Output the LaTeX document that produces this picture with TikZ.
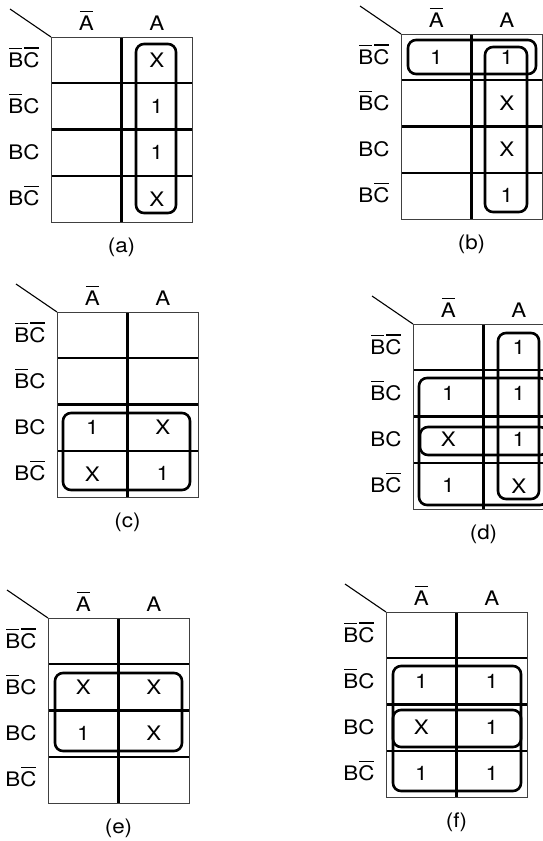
\documentclass[tikz,border=0pt]{standalone}
\usepackage{fontspec}
\setmainfont[FakeStretch=1.12]{TeX Gyre Heros}

% letter with a bar over it
\newcommand{\ovl}[1]{%
  \setbox0=\hbox{#1}%
  \rlap{\kern1pt\raise\dimexpr\ht0+3.5pt\relax
    \hbox{\vrule width \dimexpr\wd0-2pt\relax height 1.2pt depth 0pt}}%
  \box0}

% one empty map: frame, labels and caption, origin at the grid's top left
\newcommand{\kframe}[1]{%
  \draw[gridin] (70.5,0) -- (70.5,185);
  \foreach \r in {1,2,3}
    \draw[gridin] (0,\r*46.25) -- (141,\r*46.25);
  \draw[gridout] (0,0) rectangle (141,185);
  \draw[diag] (-41,-28) -- (0,0);
  \node[collab] (#1-nota) at (35.25,-7) {\ovl{A}};
  \node[collab] (#1-isa) at (105.75,-7) {A};
  \foreach \lab [count=\r] in {{\ovl{B}\ovl{C}},{\ovl{B}C},{BC},{B\ovl{C}}}
    \node[rowlab] (#1-row\r) at (-27,{(\r-0.5)*46.25+7}) {\lab};
  \node[caplab] (#1-cap) at (70.5,210) {(#1)};
}
% a value in column #2, row #3
\newcommand{\kval}[4]{%
  \node[cell] (#1) at ({(#2-0.5)*70.5},{(#3-0.5)*46.25}) {#4};
}

\begin{document}
\begin{tikzpicture}[x=1pt, y=-1pt,
    txt/.style={font=\fontsize{20}{24}\selectfont, inner sep=0pt},
    cell/.style={txt},
    collab/.style={txt, anchor=base},
    rowlab/.style={txt, anchor=base},
    caplab/.style={txt},
    gridin/.style={line width=2.1pt},
    gridout/.style={line width=1pt, black!75},
    diag/.style={line width=1.1pt},
    grp/.style={line width=2.6pt, rounded corners=8pt}]
  \useasboundingbox (0,0) rectangle (543,841);

  % (a)
  \begin{scope}[shift={(51,37)}]
    \kframe{a}
    \kval{a-12}{2}{1}{X}
    \kval{a-22}{2}{2}{1}
    \kval{a-32}{2}{3}{1}
    \kval{a-42}{2}{4}{X}
    \draw[grp] (85,7) rectangle (125,176);
  \end{scope}

  % (b)
  \begin{scope}[shift={(401,34)}]
    \kframe{b}
    \kval{b-11}{1}{1}{1}
    \kval{b-12}{2}{1}{1}
    \kval{b-22}{2}{2}{X}
    \kval{b-32}{2}{3}{X}
    \kval{b-42}{2}{4}{1}
    \draw[grp] (7,6) rectangle (135,40);
    \draw[grp] (84,13) rectangle (126,178);
  \end{scope}

  % (c)
  \begin{scope}[shift={(57,312)}]
    \kframe{c}
    \kval{c-31}{1}{3}{1}
    \kval{c-32}{2}{3}{X}
    \kval{c-41}{1}{4}{X}
    \kval{c-42}{2}{4}{1}
    \draw[grp] (6,101) rectangle (133,178);
  \end{scope}

  % (d)
  \begin{scope}[shift={(413,324)}]
    \kframe{d}
    \kval{d-12}{2}{1}{1}
    \kval{d-21}{1}{2}{1}
    \kval{d-22}{2}{2}{1}
    \kval{d-31}{1}{3}{X}
    \kval{d-32}{2}{3}{1}
    \kval{d-41}{1}{4}{1}
    \kval{d-42}{2}{4}{X}
    \draw[grp] (85,9) rectangle (126,175);
    \draw[grp] (6,54) rectangle (135,181);
    \draw[grp] (7,103) rectangle (135,131);
  \end{scope}

  % (e)
  \begin{scope}[shift={(48,618)}]
    \kframe{e}
    \kval{e-21}{1}{2}{X}
    \kval{e-22}{2}{2}{X}
    \kval{e-31}{1}{3}{1}
    \kval{e-32}{2}{3}{X}
    \draw[grp] (7,55) rectangle (134,133);
  \end{scope}

  % (f)
  \begin{scope}[shift={(386,612)}]
    \kframe{f}
    \kval{f-21}{1}{2}{1}
    \kval{f-22}{2}{2}{1}
    \kval{f-31}{1}{3}{X}
    \kval{f-32}{2}{3}{1}
    \kval{f-41}{1}{4}{1}
    \kval{f-42}{2}{4}{1}
    \draw[grp] (7,54) rectangle (135,179);
    \draw[grp] (7,98) rectangle (135,135);
  \end{scope}
\end{tikzpicture}
\end{document}
